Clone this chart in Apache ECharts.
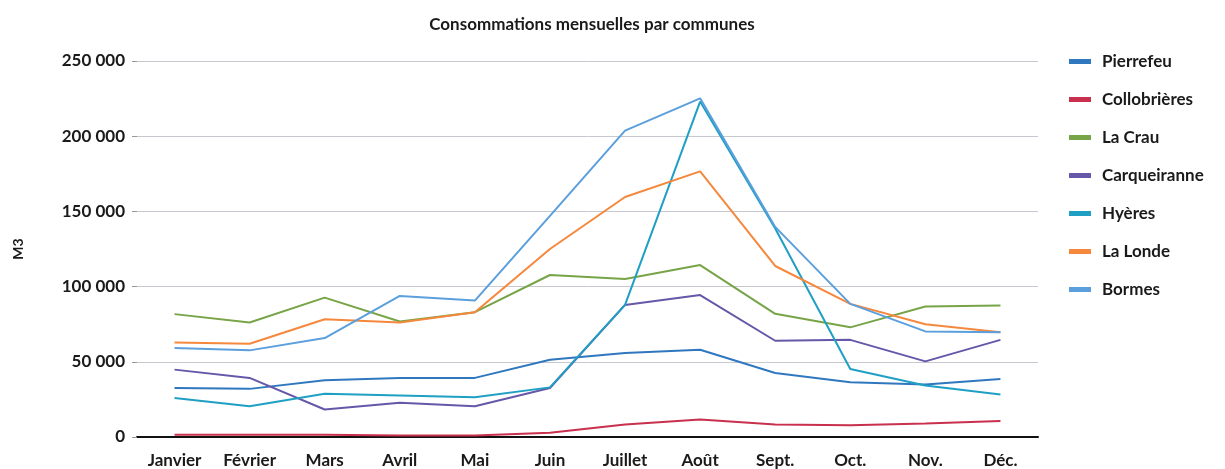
<!DOCTYPE html>
<html>
<head>
<meta charset="utf-8">
<script src="https://cdn.jsdelivr.net/npm/echarts@6/dist/echarts.min.js"></script>
<style>
  html, body { margin: 0; padding: 0; background: #fff; }
  #chart { width: 1225px; height: 469px; }
</style>
</head>
<body>
<div id="chart"></div>
<script>
// mois
var mois = ['Janvier', 'Février', 'Mars', 'Avril', 'Mai', 'Juin', 'Juillet', 'Août', 'Sept.', 'Oct.', 'Nov.', 'Déc.'];

// consommations (m3)
var pierrefeu    = [32600, 32000, 37700, 39300, 39300, 51400, 55800, 58000, 42600, 36400, 34900, 38600];
var collobrieres = [1500, 1500, 1500, 1000, 1000, 2800, 8300, 11700, 8300, 7800, 9000, 10600];
var laCrau       = [81700, 76100, 92700, 76800, 83000, 107700, 105000, 114300, 81900, 72900, 86800, 87400];
var carqueiranne = [44800, 39300, 18300, 22700, 20500, 32600, 87800, 94400, 64000, 64600, 50300, 64600];
var hyeres       = [26000, 20500, 28700, 27600, 26500, 33000, 87800, 223000, 138600, 45200, 34200, 28200];
var laLonde      = [62900, 62000, 78300, 76100, 83000, 125000, 159600, 176600, 113700, 88500, 75000, 69700];
var bormes       = [59100, 57600, 65800, 93800, 90700, 147000, 203700, 225200, 139700, 88500, 70200, 69700];

var yTicks = [0, 50000, 100000, 150000, 200000, 250000];

var font = 'Lato, "Open Sans", sans-serif';

function serie(nom, data, couleur) {
    return {
        name: nom,
        type: 'line',
        data: data,
        symbol: 'none',
        lineStyle: { width: 2, color: couleur },
        itemStyle: { color: couleur }
    };
}

var myChart = echarts.init(document.getElementById('chart'), null, { renderer: 'canvas' });
var option = {
    animation: false,
    backgroundColor: '#fff',
    title: {
        text: 'Consommations mensuelles par communes',
        left: 587,
        textAlign: 'center',
        top: 11,
        textStyle: { fontFamily: font, fontSize: 17, fontWeight: 'bold', color: '#1a1a1a' }
    },
    legend: {
        orient: 'vertical',
        left: 1064,
        top: 48,
        itemWidth: 22,
        itemHeight: 5,
        itemGap: 21,
        icon: 'rect',
        textStyle: { fontFamily: font, fontSize: 17, fontWeight: 'bold', color: '#1a1a1a', padding: [0, 0, 0, 6] },
        data: ['Pierrefeu', 'Collobrières', 'La Crau', 'Carqueiranne', 'Hyères', 'La Londe', 'Bormes']
    },
    grid: { left: 137, right: 187, top: 61, bottom: 30 },
    xAxis: {
        type: 'category',
        data: mois,
        boundaryGap: true,
        axisLine: { lineStyle: { color: '#111', width: 2 } },
        axisTick: { show: false },
        axisLabel: { fontFamily: font, fontSize: 17, fontWeight: 'bold', color: '#1a1a1a', margin: 15, interval: 0 }
    },
    yAxis: {
        type: 'value',
        min: yTicks[0],
        max: yTicks[yTicks.length - 1],
        interval: 50000,
        name: 'M3',
        nameLocation: 'middle',
        nameRotate: 90,
        nameGap: 112,
        nameTextStyle: { fontFamily: font, fontSize: 14, fontWeight: 'bold', color: '#1a1a1a' },
        axisLine: { show: false },
        axisTick: { show: true, length: 5, lineStyle: { color: '#999' } },
        splitLine: { lineStyle: { color: '#c8c8d0', width: 1 } },
        axisLabel: {
            fontFamily: font, fontSize: 17, fontWeight: 'bold', color: '#1a1a1a', margin: 12,
            formatter: function (v) { return v === 0 ? '0' : String(v).replace(/\B(?=(\d{3})+(?!\d))/g, ' '); }
        }
    },
    series: [
        serie('Pierrefeu', pierrefeu, '#2f78c0'),
        serie('Collobrières', collobrieres, '#c8304e'),
        serie('La Crau', laCrau, '#78a448'),
        serie('Carqueiranne', carqueiranne, '#6657a8'),
        serie('Hyères', hyeres, '#1f9fc4'),
        serie('La Londe', laLonde, '#f5883c'),
        serie('Bormes', bormes, '#5b9fdc')
    ]
};
myChart.setOption(option);
</script>
</body>
</html>
